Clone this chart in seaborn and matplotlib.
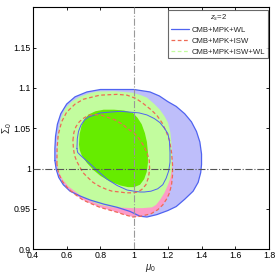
import numpy as np
import pandas as pd
import seaborn as sns
import matplotlib.pyplot as plt
from matplotlib.lines import Line2D

# contour boundaries (mu_0, Sigma_0)
# CMB+MPK+WL, 2 sigma (filled) and 1 sigma (line)
wl2_x = [0.530, 0.530, 0.534, 0.545, 0.565, 0.600, 0.650, 0.720, 0.800, 0.900, 1.000, 1.094, 1.150,
         1.200, 1.250, 1.300, 1.340, 1.370, 1.390, 1.400, 1.400, 1.395, 1.380, 1.350, 1.300, 1.250,
         1.200, 1.135, 1.076, 1.035, 0.975, 0.900, 0.820, 0.740, 0.680, 0.620, 0.580, 0.553, 0.538]
wl2_y = [1.010, 1.025, 1.040, 1.055, 1.068, 1.080, 1.089, 1.095, 1.098, 1.098, 1.098, 1.095, 1.090,
         1.083, 1.077, 1.068, 1.058, 1.046, 1.033, 1.018, 1.005, 0.995, 0.983, 0.972, 0.962, 0.953,
         0.948, 0.943, 0.940, 0.941, 0.947, 0.952, 0.956, 0.961, 0.966, 0.972, 0.980, 0.989, 0.999]

wl1_x = [0.661, 0.663, 0.670, 0.685, 0.705, 0.730, 0.760, 0.800, 0.857, 0.920, 0.975, 1.030, 1.076,
         1.120, 1.153, 1.180, 1.201, 1.210, 1.213, 1.213, 1.205, 1.190, 1.170, 1.140, 1.100, 1.060,
         1.035, 1.000, 0.958, 0.900, 0.839, 0.790, 0.738, 0.700, 0.679, 0.665]
wl1_y = [1.025, 1.037, 1.046, 1.054, 1.060, 1.064, 1.066, 1.069, 1.070, 1.071, 1.070, 1.069, 1.0665,
         1.062, 1.057, 1.050, 1.043, 1.033, 1.020, 1.008, 0.997, 0.988, 0.980, 0.975, 0.972, 0.971,
         0.971, 0.972, 0.9735, 0.979, 0.987, 0.996, 1.006, 1.013, 1.017, 1.020]

# CMB+MPK+ISW, 2 sigma (filled, dashed edge) and 1 sigma (dashed line)
isw2_x = [0.542, 0.543, 0.550, 0.570, 0.600, 0.650, 0.700, 0.797, 0.900, 0.958, 1.010, 1.052, 1.100,
          1.135, 1.165, 1.190, 1.210, 1.222, 1.228, 1.228, 1.222, 1.210, 1.195, 1.170, 1.140, 1.100,
          1.040, 0.993, 0.940, 0.898, 0.797, 0.740, 0.697, 0.650, 0.610, 0.575, 0.552]
isw2_y = [1.005, 1.025, 1.042, 1.058, 1.070, 1.080, 1.086, 1.091, 1.092, 1.091, 1.087, 1.081, 1.073,
          1.066, 1.057, 1.046, 1.035, 1.020, 1.005, 0.992, 0.980, 0.970, 0.963, 0.955, 0.949, 0.944,
          0.941, 0.940, 0.943, 0.946, 0.952, 0.957, 0.961, 0.968, 0.975, 0.984, 0.994]

isw1_x = [0.637, 0.643, 0.655, 0.675, 0.697, 0.730, 0.770, 0.810, 0.850, 0.890, 0.930, 0.965, 1.000,
          1.030, 1.055, 1.076, 1.090, 1.092, 1.085, 1.070, 1.045, 1.020, 0.993, 0.950, 0.916, 0.870,
          0.839, 0.795, 0.756, 0.720, 0.697, 0.675, 0.660, 0.647, 0.640]
isw1_y = [1.035, 1.045, 1.052, 1.058, 1.062, 1.066, 1.067, 1.066, 1.063, 1.060, 1.055, 1.049, 1.044,
          1.037, 1.029, 1.020, 1.010, 0.999, 0.989, 0.980, 0.974, 0.971, 0.970, 0.970, 0.971, 0.972,
          0.974, 0.978, 0.983, 0.990, 0.995, 1.003, 1.009, 1.016, 1.025]

# CMB+MPK+ISW+WL, 2 sigma and 1 sigma (both filled)
all2_x = [0.543, 0.544, 0.550, 0.565, 0.590, 0.630, 0.679, 0.730, 0.780, 0.880, 0.993, 1.040, 1.076,
          1.120, 1.153, 1.180, 1.201, 1.215, 1.222, 1.225, 1.224, 1.215, 1.201, 1.180, 1.153, 1.130,
          1.106, 1.050, 0.993, 0.874, 0.800, 0.756, 0.700, 0.661, 0.610, 0.578, 0.555]
all2_y = [1.005, 1.025, 1.045, 1.062, 1.074, 1.083, 1.089, 1.093, 1.0955, 1.096, 1.094, 1.091, 1.088,
          1.080, 1.073, 1.065, 1.057, 1.045, 1.030, 1.015, 1.000, 0.988, 0.980, 0.970, 0.961, 0.955,
          0.952, 0.951, 0.951, 0.952, 0.955, 0.9586, 0.964, 0.970, 0.978, 0.986, 0.995]

all1_x = [0.673, 0.677, 0.688, 0.705, 0.730, 0.770, 0.820, 0.880, 0.940, 0.993, 1.020, 1.045, 1.064,
          1.076, 1.082, 1.082, 1.075, 1.060, 1.035, 1.000, 0.964, 0.920, 0.857, 0.800, 0.760, 0.720,
          0.690, 0.677]
all1_y = [1.030, 1.043, 1.053, 1.061, 1.067, 1.071, 1.073, 1.073, 1.072, 1.069, 1.063, 1.055, 1.044,
          1.033, 1.020, 1.007, 0.996, 0.987, 0.980, 0.977, 0.977, 0.979, 0.984, 0.991, 0.998, 1.007,
          1.016, 1.023]

labels = ['CMB+MPK+WL', 'CMB+MPK+ISW', 'CMB+MPK+ISW+WL']
x_ticks = [0.4, 0.6, 0.8, 1.0, 1.2, 1.4, 1.6, 1.8]
x_ticklabels = ['0.4', '0.6', '0.8', '1', '1.2', '1.4', '1.6', '1.8']
y_ticks = [0.9, 0.95, 1.0, 1.05, 1.1, 1.15]
y_ticklabels = ['0.9', '0.95', '1', '1.05', '1.1', '1.15']


def closed(xs, ys):
    return pd.DataFrame({'x': list(xs) + [xs[0]], 'y': list(ys) + [ys[0]]})


sns.set_theme(style='ticks')
plt.rcParams['font.family'] = ['Liberation Sans', 'DejaVu Sans']
plt.rcParams['mathtext.fontset'] = 'custom'
plt.rcParams['mathtext.rm'] = 'Liberation Sans'
plt.rcParams['mathtext.it'] = 'Liberation Sans:italic'

fig = plt.figure(figsize=(2.77, 2.77), dpi=100)
ax = fig.add_axes([0.119, 0.100, 0.852, 0.874])

c_blue_fill = '#bebefa'
c_blue = '#4f63f0'
c_pink = '#fd9bc8'
c_red = '#ee6a55'
c_lgreen = '#c2fc9e'
c_dgreen = '#66ec00'
dash = (0, (3, 2))

ax.fill(wl2_x, wl2_y, color=c_blue_fill, lw=0, zorder=1)
ax.fill(isw2_x, isw2_y, color=c_pink, lw=0, zorder=2)
ax.fill(all2_x, all2_y, color=c_lgreen, lw=0, zorder=3)
ax.fill(all1_x, all1_y, color=c_dgreen, lw=0, zorder=4)

sns.lineplot(data=closed(wl2_x, wl2_y), x='x', y='y', sort=False, estimator=None,
             color=c_blue, lw=0.9, ax=ax, zorder=5)
sns.lineplot(data=closed(isw2_x, isw2_y), x='x', y='y', sort=False, estimator=None,
             color=c_red, lw=0.9, ax=ax, zorder=5, linestyle=dash)
sns.lineplot(data=closed(wl1_x, wl1_y), x='x', y='y', sort=False, estimator=None,
             color=c_blue, lw=0.7, ax=ax, zorder=6)
sns.lineplot(data=closed(isw1_x, isw1_y), x='x', y='y', sort=False, estimator=None,
             color=c_red, lw=0.9, ax=ax, zorder=6, linestyle=dash)

ax.axvline(1.0, color='#999999', lw=0.8, ls='-.', zorder=7)
ax.axhline(1.0, color='#555555', lw=0.8, ls='-.', zorder=7)

ax.set_xlim(0.4, 1.8)
ax.set_ylim(0.9, 1.2)
ax.set_xticks(x_ticks)
ax.set_xticklabels(x_ticklabels)
ax.set_yticks(y_ticks)
ax.set_yticklabels(y_ticklabels)
ax.tick_params(direction='in', length=2.5, width=0.6, labelsize=6.3, pad=1.5,
               top=True, right=True, colors='black')
for s in ax.spines.values():
    s.set_linewidth(0.8)
    s.set_color('black')
ax.set_xlabel(r'$\mu_0$', fontsize=7, labelpad=1)
ax.set_ylabel(r'$\Sigma_0$', fontsize=7)
ax.yaxis.set_label_coords(-0.082, 0.5)

handles = [Line2D([], [], color=c_blue, lw=0.9),
           Line2D([], [], color=c_red, lw=0.9, ls=dash),
           Line2D([], [], color=c_lgreen, lw=0.9, ls=dash)]
leg = ax.legend(handles, labels, title=r'$z_s$=2', loc='upper right', fontsize=5.6,
                title_fontsize=5.6, frameon=True, fancybox=False, handlelength=2.3,
                handletextpad=0.35, borderpad=0.35, labelspacing=0.45, borderaxespad=0,
                bbox_to_anchor=(0.996, 0.989))
leg.get_frame().set_edgecolor('#444444')
leg.get_frame().set_linewidth(0.8)
leg.set_zorder(10)

fig.savefig('out.png', dpi=100)
